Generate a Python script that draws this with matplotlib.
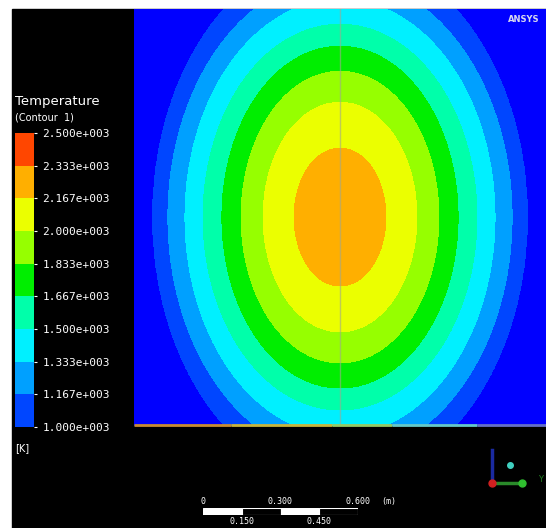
"""
Temperature contour (Contour 1), ANSYS style recreation
"""

import matplotlib
matplotlib.use('Agg')
import matplotlib.pyplot as plt
import matplotlib.colors as mcolors
from matplotlib.patches import Rectangle
from matplotlib.collections import LineCollection
import numpy as np

#---------------------------------------------------------------------------------------------------
# Data
#---------------------------------------------------------------------------------------------------

# Colour bar levels [K] and their labels
levels = np.linspace(1000., 2500., 10)
level_labels = ['1.000e+003', '1.167e+003', '1.333e+003', '1.500e+003', '1.667e+003',
                '1.833e+003', '2.000e+003', '2.167e+003', '2.333e+003', '2.500e+003']

# Band colours, low to high, plus colour below 1000 K
band_colors = ['#0046ff', '#00a0ff', '#00f0ff', '#00ffaa', '#00ee00',
               '#96ff00', '#ebff00', '#ffaf00', '#ff4600']
under_color = '#0000ff'

# Contour boundaries: temperature and ellipse semi-axes [m] (inner to outer)
bound_T = [2166.7, 2000.0, 1833.3, 1666.7, 1500.0, 1333.3, 1166.7, 1000.0]
semi_x = [0.178, 0.298, 0.383, 0.457, 0.530, 0.600, 0.666, 0.724]
semi_y = [0.267, 0.445, 0.565, 0.662, 0.747, 0.844, 0.929, 1.026]
peak_T = 2300.
x0, y0 = 0.0, 0.809

# Domain extent [m]
x_lim = (-0.797, 0.797)
y_lim = (0.0, 1.615)

# Wall temperature colours along the bottom edge
wall_x = [-0.797, -0.42, -0.03, 0.2, 0.53, 0.797]
wall_c = ['#c88c32', '#c8b43c', '#96c864', '#64c8c8', '#6470c8']

# Scale bar ticks [m]
sbar_top = [0.0, 0.3, 0.6]
sbar_bot = [0.15, 0.45]

#---------------------------------------------------------------------------------------------------
# Build the field
#---------------------------------------------------------------------------------------------------

xg = np.linspace(x_lim[0], x_lim[1], 700)
yg = np.linspace(y_lim[0], y_lim[1], 700)
X, Y = np.meshgrid(xg, yg)

r = np.array([np.sqrt(((X - x0) / a)**2 + ((Y - y0) / b)**2) for a, b in zip(semi_x, semi_y)])
T = np.full(X.shape, 950.)
inside = r[0] < 1.
T[inside] = bound_T[0] + (1. - r[0][inside]) * (peak_T - bound_T[0])
for k in range(len(bound_T) - 1):
    m = (r[k] >= 1.) & (r[k + 1] < 1.)
    frac = (r[k][m] - 1.) / (r[k][m] - r[k + 1][m])
    T[m] = bound_T[k] + frac * (bound_T[k + 1] - bound_T[k])
out = r[-1] >= 1.
T[out] = np.maximum(bound_T[-1] - (r[-1][out] - 1.) * 200., 920.)

#---------------------------------------------------------------------------------------------------
# Make Plot
#---------------------------------------------------------------------------------------------------

W, H = 546, 528
fig = plt.figure(figsize=(W / 100, H / 100), dpi=100, facecolor='white')
fig.patches.append(Rectangle((12 / W, 0), 1, (H - 9) / H, transform=fig.transFigure,
                             color='black', zorder=-1))

ax = fig.add_axes([134 / W, (H - 426) / H, 412 / W, 417 / H])
ax.contourf(X, Y, T, levels=np.concatenate([[900.], levels]),
            colors=[under_color] + band_colors)
ax.axvline(x0, color='#a0a890', lw=1, alpha=0.6)
ax.set_xlim(x_lim)
ax.set_ylim(y_lim)
ax.axis('off')

# bottom wall
segs = [[(wall_x[i], 0.004), (wall_x[i + 1], 0.004)] for i in range(len(wall_c))]
ax.add_collection(LineCollection(segs, colors=wall_c, lw=2, clip_on=False))

ax.text(0.985, 0.985, 'ANSYS', transform=ax.transAxes, ha='right', va='top',
        fontsize=6, fontweight='bold', color='#d8d8f0')

# colour bar
cax = fig.add_axes([15 / W, (H - 427) / H, 19 / W, 294 / H])
cmap = mcolors.ListedColormap(band_colors)
norm = mcolors.BoundaryNorm(levels, cmap.N)
cb = matplotlib.colorbar.ColorbarBase(cax, cmap=cmap, norm=norm, orientation='vertical')
cb.outline.set_visible(False)
cb.set_ticks(levels)
cb.set_ticklabels(level_labels)
cax.tick_params(axis='y', colors='white', length=2, width=0.8, pad=4, labelsize=8)
for lab in cax.get_yticklabels():
    lab.set_family('DejaVu Sans Mono')

fig.text(15 / W, 1 - 101 / H, 'Temperature', color='white', fontsize=9.5, va='center')
fig.text(15 / W, 1 - 117 / H, '(Contour  1)', color='white', fontsize=7, va='center')
fig.text(15 / W, 1 - 448 / H, '[K]', color='white', fontsize=7, va='center')

# scale bar
sax = fig.add_axes([203 / W, (H - 515) / H, 155 / W, 7 / H])
sax.set_xlim(0, 0.6)
sax.set_ylim(0, 1)
sax.axis('off')
for i in range(4):
    sax.add_patch(Rectangle((i * 0.15, 0), 0.15, 1, facecolor='white' if i % 2 == 0 else 'black',
                            edgecolor='white', lw=0.8))
for v in sbar_top:
    sax.text(v, 1.9, '0' if v == 0 else '%.3f' % v, color='white', fontsize=6, ha='center',
             va='center', family='DejaVu Sans Mono')
for v in sbar_bot:
    sax.text(v, -1.0, '%.3f' % v, color='white', fontsize=6, ha='center', va='center',
             family='DejaVu Sans Mono')
sax.text(0.72, 1.9, '(m)', color='white', fontsize=6, ha='center', va='center',
         family='DejaVu Sans Mono')

# axis triad
tax = fig.add_axes([470 / W, (H - 500) / H, 76 / W, 60 / H])
tax.set_xlim(0, 76)
tax.set_ylim(60, 0)
tax.axis('off')
tax.plot([22, 52], [43, 43], color='#2a8a2a', lw=2.5)
tax.plot([22, 22], [43, 10], color='#1a2aa0', lw=2.5)
tax.plot(22, 43, 'o', color='#d02020', ms=5)
tax.plot(52, 43, 'o', color='#30c030', ms=5)
tax.plot(40, 25, 'o', color='#40d0c0', ms=4)
tax.text(68, 40, 'Y', color='#208020', fontsize=6, va='center')

plt.savefig('out.png', dpi=100, facecolor=fig.get_facecolor())
plt.close()
